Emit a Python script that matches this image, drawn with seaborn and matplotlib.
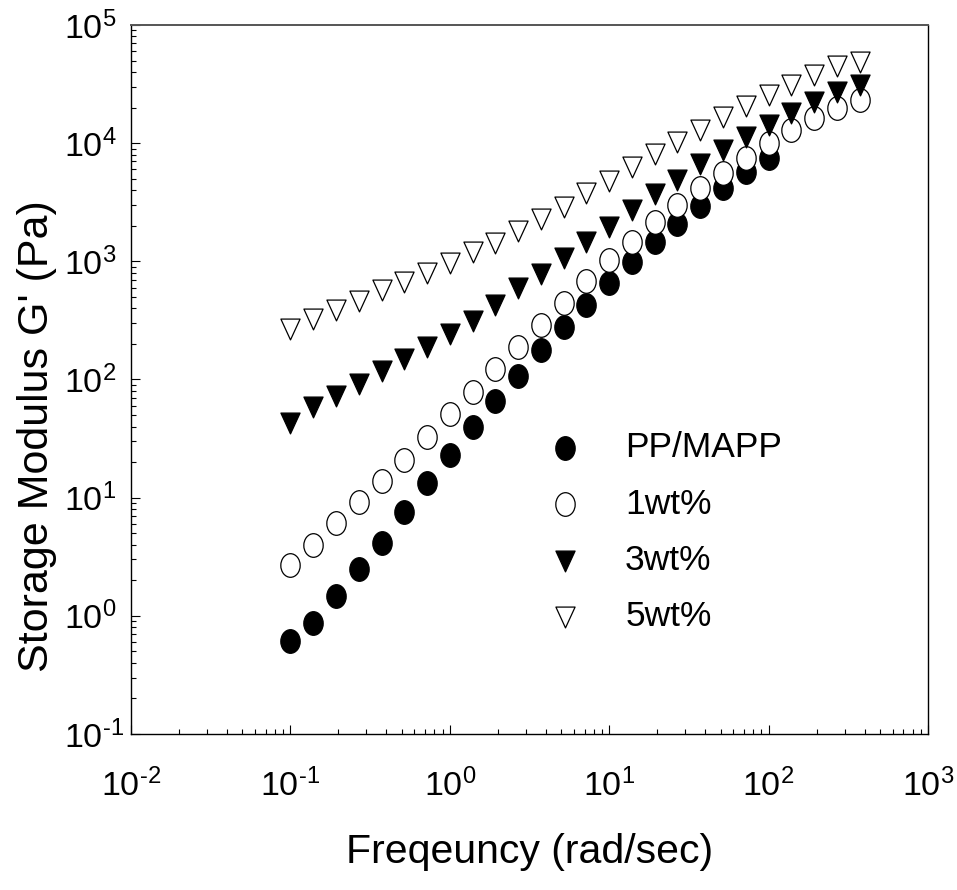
import numpy as np
import pandas as pd
import matplotlib
matplotlib.use("Agg")
import matplotlib.pyplot as plt
import seaborn as sns
from matplotlib.path import Path
from matplotlib.transforms import Affine2D
from matplotlib.ticker import LogLocator, FuncFormatter, NullFormatter

# ---------------- data ----------------
freq = [0.1, 0.139, 0.193, 0.268, 0.373, 0.518, 0.72, 1.0, 1.39, 1.93, 2.68, 3.73,
        5.18, 7.2, 10.0, 13.9, 19.3, 26.8, 37.3, 51.8, 72.0, 100.0, 139.0, 193.0,
        268.0, 373.0]

pp_mapp = [0.615, 0.867, 1.46, 2.48, 4.17, 7.63, 13.3, 23.0, 39.5, 66.0, 108, 176,
           280, 428, 655, 980, 1460, 2080, 2920, 4150, 5740, 7450]
wt1 = [2.70, 3.98, 6.08, 9.16, 13.9, 20.9, 32.7, 50.8, 79, 122, 190, 290,
       442, 680, 1020, 1470, 2150, 3000, 4150, 5600, 7500, 9980, 12900, 16200,
       20000, 23200]
wt3 = [42.7, 58.3, 73, 92, 117, 148, 190, 244, 315, 428, 590, 787,
       1060, 1450, 1970, 2700, 3700, 4890, 6600, 8700, 11200, 14200, 17900, 22400,
       27300, 31100]
wt5 = [268, 324, 391, 466, 570, 670, 790, 960, 1190, 1440, 1820, 2280,
       2900, 3760, 4800, 6300, 8050, 10300, 13000, 16500, 20500, 25400, 31100, 38000,
       45000, 49000]

series_labels = ["PP/MAPP", "1wt%", "3wt%", "5wt%"]

# ---------------- style ----------------
sns.set_style("ticks")
FONT = ["Liberation Sans", "DejaVu Sans"]
plt.rcParams["font.family"] = FONT
plt.rcParams["mathtext.fontset"] = "custom"
plt.rcParams["mathtext.rm"] = FONT[0]
plt.rcParams["mathtext.it"] = FONT[0]
plt.rcParams["mathtext.bf"] = FONT[0]
plt.rcParams["axes.unicode_minus"] = False
for k in ["text.color", "axes.labelcolor", "xtick.color", "ytick.color"]:
    plt.rcParams[k] = "black"

fig = plt.figure(figsize=(9.57, 8.90), dpi=100)
ax = fig.add_axes([131 / 957, 1 - 734 / 890, (928 - 131) / 957, (734 - 25) / 890])

# custom markers (slightly tall shapes as in the reference)
ellipse = Path.unit_circle().transformed(Affine2D().scale(0.82, 1.0))
tri = Path([(0, -1), (-0.92, 1), (0.92, 1), (0, -1)],
           [Path.MOVETO, Path.LINETO, Path.LINETO, Path.CLOSEPOLY])

specs = [
    (pp_mapp, ellipse, "black", 17.0),
    (wt1, ellipse, "white", 17.0),
    (wt3, tri, "black", 15.0),
    (wt5, tri, "white", 15.0),
]

for (vals, mk, fc, size), lab in zip(specs, series_labels):
    df = pd.DataFrame({"freq": freq[:len(vals)], "G": vals})
    sns.scatterplot(data=df, x="freq", y="G", ax=ax, marker=mk, s=size ** 2,
                    facecolor=fc, edgecolor="black", linewidth=0.9,
                    label=lab, zorder=3)

ax.set_xscale("log")
ax.set_yscale("log")
ax.set_xlim(1e-2, 1e3)
ax.set_ylim(1e-1, 1e5)


def pow10(v, pos=None):
    e = int(round(np.log10(v)))
    if e < 0:
        return r"$\mathdefault{10^{\text{-}%d}}$" % (-e)
    return r"$\mathdefault{10^{%d}}$" % e


for a in (ax.xaxis, ax.yaxis):
    a.set_major_locator(LogLocator(base=10, numticks=20))
    a.set_minor_locator(LogLocator(base=10, subs=np.arange(2, 10), numticks=50))
    a.set_major_formatter(FuncFormatter(pow10))
    a.set_minor_formatter(NullFormatter())

ax.tick_params(which="both", direction="in", top=False, right=False,
               color="black", width=0.8)
ax.tick_params(which="major", length=6.5, labelsize=24.5)
ax.tick_params(which="minor", length=3.6)
ax.tick_params(axis="x", which="major", pad=25)
# y tick labels are left-aligned in a column starting at x ~ 65 px
ax.tick_params(axis="y", which="major", pad=(131 - 64) * 0.72)
fig.canvas.draw()
for t in ax.get_yticklabels():
    t.set_horizontalalignment("left")

for side in ["left", "bottom", "right"]:
    ax.spines[side].set_color("black")
    ax.spines[side].set_linewidth(1.0)
ax.spines["top"].set_color("#555555")
ax.spines["top"].set_linewidth(1.4)

ax.set_xlabel("Freqeuncy (rad/sec)", fontsize=29.5)
ax.set_ylabel("Storage Modulus G' (Pa)", fontsize=31)
ax.xaxis.set_label_coords(0.5, -0.14)
ax.yaxis.set_label_coords(-0.093, 0.42)

leg = ax.legend(loc="upper left", bbox_to_anchor=(0.50, 0.452), frameon=False,
                fontsize=25.5, handletextpad=1.2, labelspacing=0.66,
                borderpad=0.0, handlelength=1.0, scatterpoints=1)

fig.savefig("out.png", dpi=100)
